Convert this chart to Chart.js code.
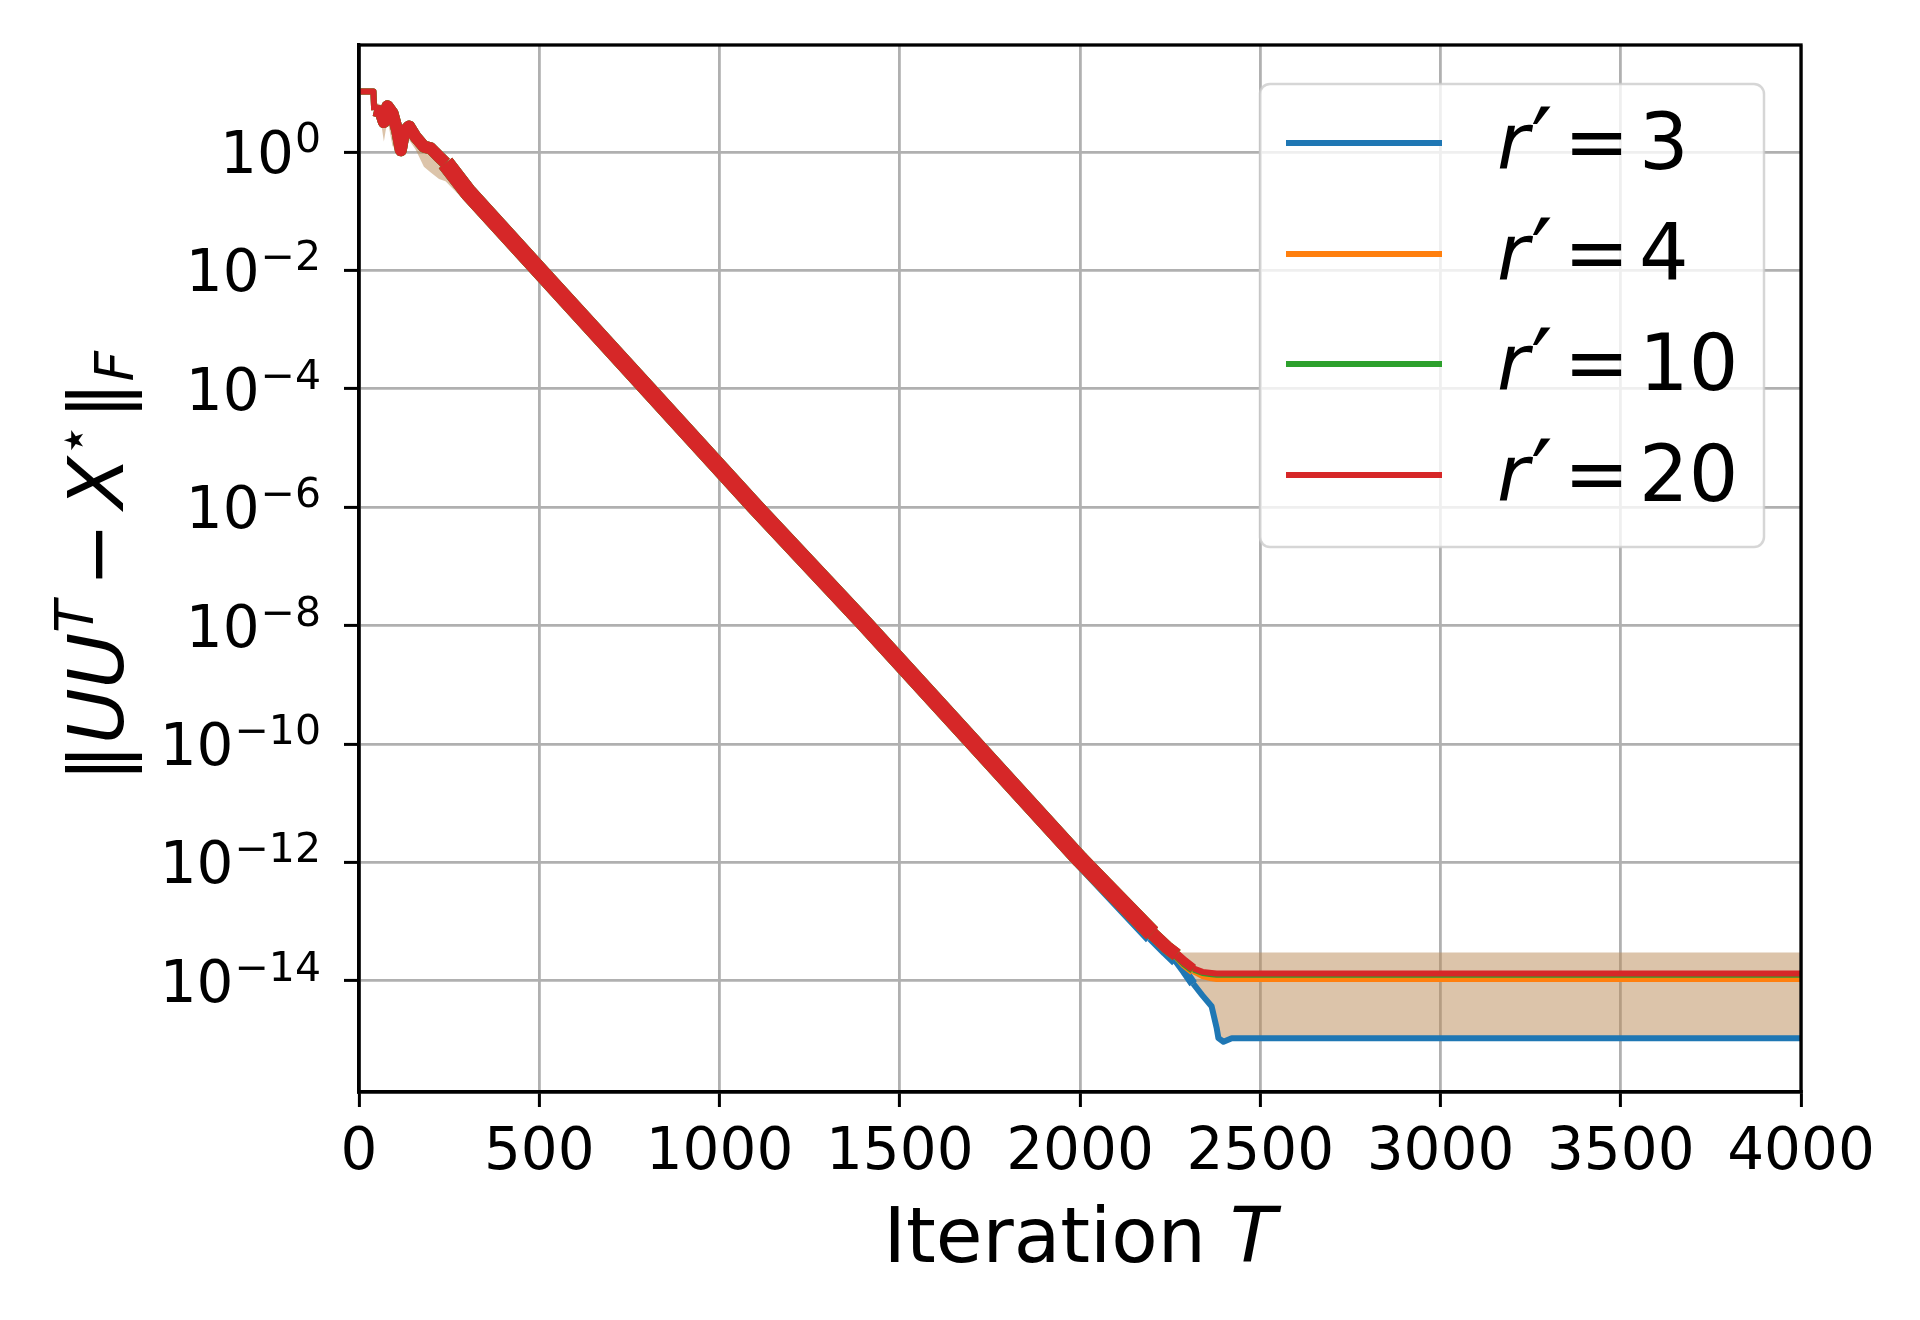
<!DOCTYPE html>
<html>
<head>
<meta charset="utf-8">
<script src="https://cdn.jsdelivr.net/npm/chart.js@4.4.1/dist/chart.umd.min.js"></script>
<style>
  html, body { margin: 0; padding: 0; background: #fff; }
  #errChart { display: block; }
</style>
</head>
<body>
<canvas id="errChart" width="1920" height="1320"></canvas>
<script>
const iters = [0, 40, 42, 60, 69, 79, 93, 106, 116, 125, 139, 157, 180, 199, 222, 240, 305,
    500, 800, 1100, 1400, 1700, 2000, 2200, 2240, 2268, 2290, 2314, 2340, 2365, 2379, 2384,
    2398, 2421, 2500, 3000, 3500, 4000];

// ||UU^T - X*||_F for each r'
const errR20 = [10.5, 10.5, 5.1, 4.8, 3.2, 5.9, 4.5, 2.3, 1.07, 2.2, 2.7, 1.8, 1.23, 1.15, 0.83, 0.65, 0.20,
    1e-2, 1e-4, 1e-6, 1.12e-8, 1.12e-10, 1.12e-12, 6.3e-14, 3.7e-14, 2.75e-14, 2.1e-14, 1.62e-14, 1.41e-14, 1.35e-14, 1.32e-14, 1.32e-14,
    1.32e-14, 1.32e-14, 1.32e-14, 1.32e-14, 1.32e-14, 1.32e-14];
const errR10 = [10.5, 10.5, 5.1, 4.8, 3.2, 5.9, 4.5, 2.3, 1.07, 2.2, 2.7, 1.8, 1.23, 1.15, 0.83, 0.65, 0.20,
    1e-2, 1e-4, 1e-6, 1.12e-8, 1.12e-10, 1.12e-12, 6.3e-14, 3.7e-14, 2.7e-14, 2.0e-14, 1.55e-14, 1.35e-14, 1.28e-14, 1.26e-14, 1.26e-14,
    1.26e-14, 1.26e-14, 1.26e-14, 1.26e-14, 1.26e-14, 1.26e-14];
const errR4 = [10.5, 10.5, 5.1, 4.8, 3.2, 5.9, 4.5, 2.3, 1.07, 2.2, 2.7, 1.8, 1.23, 1.15, 0.83, 0.65, 0.20,
    1e-2, 1e-4, 1e-6, 1.12e-8, 1.12e-10, 1.12e-12, 6.3e-14, 3.7e-14, 2.7e-14, 1.9e-14, 1.45e-14, 1.2e-14, 1.1e-14, 1.07e-14, 1.07e-14,
    1.07e-14, 1.07e-14, 1.07e-14, 1.07e-14, 1.07e-14, 1.07e-14];
const errR3 = [10.5, 10.5, 5.1, 4.8, 3.2, 5.9, 4.5, 2.3, 1.07, 2.2, 2.7, 1.8, 1.23, 1.15, 0.83, 0.65, 0.20,
    1e-2, 1e-4, 1e-6, 1.12e-8, 1.12e-10, 1.12e-12, 5.6e-14, 3.2e-14, 2.2e-14, 1.45e-14, 8.9e-15, 5.6e-15, 3.7e-15, 1.6e-15, 1.07e-15,
    9.3e-16, 1.07e-15, 1.07e-15, 1.07e-15, 1.07e-15, 1.07e-15];

// spread band around the runs
const bandHigh = [10.5, 10.5, 7.1, 6.3, 6.3, 6.6, 5.2, 3.5, 2.8, 2.8, 3.2, 2.2, 1.6, 1.3, 1.0, 0.8, 0.25,
    1.26e-2, 1.26e-4, 1.26e-6, 1.4e-8, 1.4e-10, 1.4e-12, 7.9e-14, 4.5e-14, 3.0e-14, 3.0e-14, 3.0e-14, 3.0e-14, 3.0e-14, 3.0e-14, 3.0e-14,
    3.0e-14, 3.0e-14, 3.0e-14, 3.0e-14, 3.0e-14, 3.0e-14];
const bandLow = [10.5, 10.5, 5.1, 3.5, 1.5, 3.5, 1.26, 1.0, 0.9, 1.6, 1.6, 1.1, 0.56, 0.45, 0.35, 0.32, 0.126,
    7.1e-3, 7.6e-5, 7.6e-7, 8.5e-9, 8.5e-11, 8.5e-13, 4.5e-14, 2.5e-14, 1.8e-14, 1.2e-14, 7.9e-15, 5.2e-15, 3.5e-15, 1.6e-15, 1.07e-15,
    1.0e-15, 1.07e-15, 1.07e-15, 1.07e-15, 1.07e-15, 1.07e-15];

const seriesNames = ['3', '4', '10', '20'];
const seriesColors = ['#1f77b4', '#ff7f0e', '#2ca02c', '#d62728'];

const xTicks = [0, 500, 1000, 1500, 2000, 2500, 3000, 3500, 4000];
const yTickValues = [1, 1e-2, 1e-4, 1e-6, 1e-8, 1e-10, 1e-12, 1e-14];
const yTickExponents = ['0', '−2', '−4', '−6', '−8', '−10', '−12', '−14'];

const FONT = '"DejaVu Sans", sans-serif';

function toPoints(values) {
    return iters.map((t, i) => ({ x: t, y: values[i] }));
}

// thick where the runs oscillate, thin on the plateau
function segWidth(ctx) {
    const t = ctx.p1.parsed.x;
    if (t <= 42) return 6;
    if (t <= 260) return 12;
    if (t <= 2200) return 17;
    if (t <= 2268) return 13;
    if (t <= 2314) return 9;
    return 6;
}

function lineSet(label, values, color, order) {
    return {
        label: label,
        data: toPoints(values),
        borderColor: color,
        backgroundColor: color,
        borderWidth: 6,
        borderJoinStyle: 'round',
        borderCapStyle: 'butt',
        pointRadius: 0,
        tension: 0,
        fill: false,
        order: order,
        segment: { borderWidth: segWidth },
    };
}

// Frame, tick labels with exponents, axis titles and legend
const decorPlugin = {
    id: 'decor',
    afterDraw(chart) {
        const ctx = chart.ctx;
        const a = chart.chartArea;
        ctx.save();

        // full box around the axes
        ctx.strokeStyle = '#000';
        ctx.lineWidth = 3.3;
        ctx.strokeRect(a.left, a.top, a.right - a.left, a.bottom - a.top);

        ctx.fillStyle = '#000';
        ctx.textBaseline = 'alphabetic';

        // y tick labels 10^k
        const ys = chart.scales.y;
        yTickValues.forEach((v, i) => {
            const y = ys.getPixelForValue(v);
            ctx.font = '41px ' + FONT;
            ctx.textAlign = 'right';
            const ew = ctx.measureText(yTickExponents[i]).width;
            ctx.fillText(yTickExponents[i], 321, y);
            ctx.font = '58px ' + FONT;
            ctx.fillText('10', 321 - ew - 1, y + 21);
        });
        ctx.textAlign = 'left';

        // x title: Iteration T
        ctx.font = '76px ' + FONT;
        const w1 = ctx.measureText('Iteration ').width;
        ctx.font = 'italic 76px ' + FONT;
        const w2 = ctx.measureText('T').width;
        let x = (a.left + a.right) / 2 - (w1 + w2) / 2;
        ctx.font = '76px ' + FONT;
        ctx.fillText('Iteration ', x, 1262);
        ctx.font = 'italic 76px ' + FONT;
        ctx.fillText('T', x + w1, 1262);

        // y title: ||UU^T - X*||_F (rotated)
        const parts = [
            { s: '‖', f: '76px ', dy: 0, gap: 0 },
            { s: 'UU', f: 'italic 76px ', dy: 0, gap: 0 },
            { s: 'T', f: 'italic 53px ', dy: -30, gap: 0 },
            { s: '−', f: '76px ', dy: 0, gap: 14 },
            { s: 'X', f: 'italic 76px ', dy: 0, gap: 14 },
            { s: '⋆', f: '53px ', dy: -32, gap: 0 },
            { s: '‖', f: '76px ', dy: 0, gap: 4 },
            { s: 'F', f: 'italic 53px ', dy: 10, gap: 0 },
        ];
        let total = 0;
        parts.forEach(p => {
            ctx.font = p.f + FONT;
            p.w = ctx.measureText(p.s).width;
            total += p.gap + p.w;
        });
        ctx.translate(123, (a.top + a.bottom) / 2 - 2);
        ctx.rotate(-Math.PI / 2);
        let px = -total / 2;
        parts.forEach(p => {
            px += p.gap;
            ctx.font = p.f + FONT;
            ctx.fillText(p.s, px, p.dy);
            px += p.w;
        });
        ctx.setTransform(1, 0, 0, 1, 0, 0);

        // legend
        const bx = 1260, by = 84, bw = 504, bh = 463, r = 10;
        ctx.beginPath();
        ctx.moveTo(bx + r, by);
        ctx.arcTo(bx + bw, by, bx + bw, by + bh, r);
        ctx.arcTo(bx + bw, by + bh, bx, by + bh, r);
        ctx.arcTo(bx, by + bh, bx, by, r);
        ctx.arcTo(bx, by, bx + bw, by, r);
        ctx.closePath();
        ctx.fillStyle = 'rgba(255,255,255,0.8)';
        ctx.fill();
        ctx.strokeStyle = 'rgba(204,204,204,0.8)';
        ctx.lineWidth = 2.5;
        ctx.stroke();

        const rows = [143, 254, 364, 475];
        seriesNames.forEach((name, i) => {
            const y = rows[i];
            ctx.strokeStyle = seriesColors[i];
            ctx.lineWidth = 6;
            ctx.beginPath();
            ctx.moveTo(1286, y);
            ctx.lineTo(1442, y);
            ctx.stroke();

            ctx.fillStyle = '#000';
            ctx.font = 'italic 78px ' + FONT;
            ctx.fillText('r', 1497, y + 26);
            ctx.font = '96px ' + FONT;
            ctx.textAlign = 'center';
            ctx.fillText('′', 1542, y + 34);
            ctx.textAlign = 'left';
            ctx.font = '78px ' + FONT;
            ctx.fillText('=', 1564, y + 26);
            ctx.fillText(name, 1639, y + 26);
        });

        ctx.restore();
    }
};

const chart = new Chart(document.getElementById('errChart'), {
    type: 'line',
    data: {
        datasets: [
            {
                label: 'band high',
                data: toPoints(bandHigh),
                borderWidth: 0,
                pointRadius: 0,
                fill: false,
                order: 6,
            },
            {
                label: 'band low',
                data: toPoints(bandLow),
                borderWidth: 0,
                pointRadius: 0,
                fill: 0,
                backgroundColor: 'rgba(185,137,85,0.5)',
                order: 5,
            },
            lineSet("r' = 3", errR3, seriesColors[0], 4),
            lineSet("r' = 4", errR4, seriesColors[1], 3),
            lineSet("r' = 10", errR10, seriesColors[2], 2),
            lineSet("r' = 20", errR20, seriesColors[3], 1),
        ],
    },
    options: {
        responsive: false,
        animation: false,
        devicePixelRatio: 1,
        layout: { padding: { left: 0, top: 45, right: 119, bottom: 0 } },
        plugins: {
            legend: { display: false },
            tooltip: { enabled: false },
        },
        scales: {
            x: {
                type: 'linear',
                min: 0,
                max: 4000,
                afterFit: scale => { scale.height = 228; },
                afterBuildTicks: scale => { scale.ticks = xTicks.map(v => ({ value: v })); },
                grid: {
                    color: '#b0b0b0',
                    lineWidth: 2.8,
                    tickColor: '#000',
                    tickWidth: 3,
                    tickLength: 15,
                },
                border: { display: true, color: '#000', width: 3.3 },
                ticks: {
                    autoSkip: false,
                    maxRotation: 0,
                    padding: 12,
                    color: '#000',
                    font: { family: FONT, size: 58 },
                    callback: v => String(v),
                },
            },
            y: {
                type: 'logarithmic',
                min: Math.pow(10, -15.88),
                max: Math.pow(10, 1.807),
                afterFit: scale => { scale.width = 359; },
                afterBuildTicks: scale => { scale.ticks = yTickValues.map(v => ({ value: v })); },
                grid: {
                    color: '#b0b0b0',
                    lineWidth: 2.8,
                    tickColor: '#000',
                    tickWidth: 3,
                    tickLength: 15,
                },
                border: { display: true, color: '#000', width: 3.3 },
                ticks: { display: false },
            },
        },
    },
    plugins: [decorPlugin],
});
</script>
</body>
</html>
